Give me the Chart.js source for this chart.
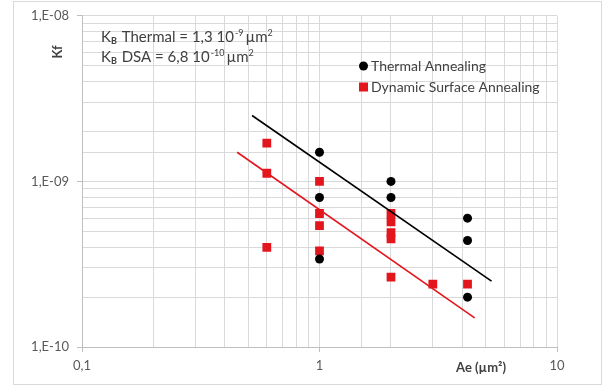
<!DOCTYPE html>
<html>
<head>
<meta charset="utf-8">
<script src="https://cdn.jsdelivr.net/npm/chart.js@4.4.1/dist/chart.umd.min.js"></script>
<style>
    html, body { margin: 0; padding: 0; background: #ffffff; }
    #wrap { position: relative; width: 606px; height: 387px; }
</style>
</head>
<body>
<div id="wrap"><canvas id="kfChart" width="606" height="387"></canvas></div>
<script>
// Data
const thermalAe = [1, 1, 1, 2, 2, 4.2, 4.2, 4.2];
const thermalKf = [1.5e-9, 8e-10, 3.4e-10, 1.0e-9, 8e-10, 6e-10, 4.4e-10, 2.0e-10];

const dsaAe = [0.6, 0.6, 0.6, 1, 1, 1, 1, 2, 2, 2, 2, 2, 3, 4.2];
const dsaKf = [1.7e-9, 1.12e-9, 4.0e-10, 1.0e-9, 6.4e-10, 5.4e-10, 3.8e-10,
               6.4e-10, 5.7e-10, 4.9e-10, 4.5e-10, 2.64e-10, 2.4e-10, 2.4e-10];

// trend line end points
const thermalFitAe = [0.52, 5.3];
const thermalFitKf = [2.5e-9, 2.5e-10];
const dsaFitAe = [0.45, 4.5];
const dsaFitKf = [1.5e-9, 1.5e-10];

const xTickLabels = ['0,1', '1', '10'];
const yTickLabels = ['1,E-10', '1,E-09', '1,E-08'];
const seriesNames = ['Thermal Annealing', 'Dynamic Surface Annealing'];

const RED = '#e3161e';
const GRID = '#d9d9d9';
const TEXT = '#595959';
const FONT = 'Lato, "Open Sans", sans-serif';

function toPoints(xs, ys) {
    return xs.map((x, i) => ({ x: x, y: ys[i] }));
}

function isDecade(v) {
    const l = Math.log10(v);
    return Math.abs(l - Math.round(l)) < 1e-6;
}

// border, annotation, legend and axis titles
const extras = {
    id: 'extras',
    beforeDraw(chart) {
        const c = chart.ctx;
        c.save();
        c.strokeStyle = GRID;
        c.lineWidth = 1;
        c.strokeRect(13.5, 1.5, 588, 383);
        c.restore();
    },
    afterDraw(chart) {
        const c = chart.ctx;
        c.save();
        c.fillStyle = '#404040';
        c.textBaseline = 'alphabetic';

        // K_B text lines
        function kLine(y, mid, exp) {
            let x = 101;
            c.font = '15px ' + FONT;
            c.fillText('K', x, y); x += c.measureText('K').width;
            c.font = 'bold 9px ' + FONT;
            c.fillText('B', x, y + 2); x += c.measureText('B').width + 1;
            c.font = '15px ' + FONT;
            c.fillText(mid, x, y); x += c.measureText(mid).width + 1;
            c.font = '9px ' + FONT;
            c.fillText(exp, x, y - 6); x += c.measureText(exp).width + 2;
            c.font = '15px ' + FONT;
            c.fillText('µm', x, y); x += c.measureText('µm').width;
            c.font = '9px ' + FONT;
            c.fillText('2', x, y - 6);
        }
        kLine(42, ' Thermal = 1,3 10', '-9');
        kLine(62, ' DSA = 6,8 10', '-10');

        // legend
        c.font = '14px ' + FONT;
        c.textBaseline = 'middle';
        c.fillStyle = '#000000';
        c.beginPath();
        c.arc(363.5, 66, 4.5, 0, Math.PI * 2);
        c.fill();
        c.fillStyle = RED;
        c.fillRect(359, 82.5, 9, 9);
        c.fillStyle = '#404040';
        c.fillText(seriesNames[0], 371, 66);
        c.fillText(seriesNames[1], 371, 87);

        // axis titles
        c.fillStyle = '#404040';
        c.font = 'bold 13px ' + FONT;
        c.textAlign = 'center';
        c.fillText('Ae (µm²)', 481, 368);
        c.translate(58, 52);
        c.rotate(-Math.PI / 2);
        c.fillText('Kf', 0, 0);
        c.restore();
    }
};

const config = {
    type: 'scatter',
    data: {
        datasets: [
            {
                label: 'thermal fit',
                type: 'line',
                data: toPoints(thermalFitAe, thermalFitKf),
                borderColor: '#000000',
                borderWidth: 1.6,
                pointRadius: 0,
                fill: false
            },
            {
                label: 'dsa fit',
                type: 'line',
                data: toPoints(dsaFitAe, dsaFitKf),
                borderColor: RED,
                borderWidth: 1.6,
                pointRadius: 0,
                fill: false
            },
            {
                label: seriesNames[0],
                data: toPoints(thermalAe, thermalKf),
                pointStyle: 'circle',
                pointRadius: 4.5,
                backgroundColor: '#000000',
                borderWidth: 0
            },
            {
                label: seriesNames[1],
                data: toPoints(dsaAe, dsaKf),
                pointStyle: 'rect',
                pointRadius: 6.2,
                backgroundColor: RED,
                borderWidth: 0
            }
        ]
    },
    options: {
        responsive: false,
        animation: false,
        layout: { padding: { left: 0, top: 15, right: 49, bottom: 0 } },
        plugins: {
            legend: { display: false },
            tooltip: { enabled: false }
        },
        scales: {
            x: {
                type: 'logarithmic',
                min: 0.1,
                max: 10,
                afterFit: (s) => { s.height = 40; },
                border: { color: '#bfbfbf' },
                grid: {
                    color: GRID,
                    tickLength: 5,
                    tickColor: (ctx) => (ctx.tick && isDecade(ctx.tick.value)) ? '#bfbfbf' : 'rgba(0,0,0,0)'
                },
                ticks: {
                    autoSkip: false,
                    maxRotation: 0,
                    padding: 6,
                    color: TEXT,
                    font: { family: FONT, size: 13 },
                    callback: (v) => isDecade(v) ? xTickLabels[Math.round(Math.log10(v)) + 1] : ''
                }
            },
            y: {
                type: 'logarithmic',
                min: 1e-10,
                max: 1e-8,
                afterFit: (s) => { s.width = 82; },
                border: { color: '#bfbfbf' },
                grid: {
                    color: GRID,
                    tickLength: 5,
                    tickColor: (ctx) => (ctx.tick && isDecade(ctx.tick.value)) ? '#bfbfbf' : 'rgba(0,0,0,0)'
                },
                ticks: {
                    autoSkip: false,
                    padding: 8,
                    color: TEXT,
                    font: { family: FONT, size: 13 },
                    callback: (v) => isDecade(v) ? yTickLabels[Math.round(Math.log10(v)) + 10] : ''
                }
            }
        }
    },
    plugins: [extras]
};

const ctx = document.getElementById('kfChart').getContext('2d');
new Chart(ctx, config);
</script>
</body>
</html>
